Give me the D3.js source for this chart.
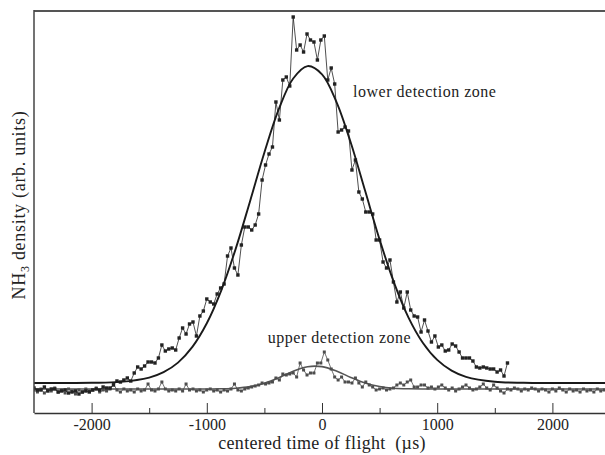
<!DOCTYPE html>
<html>
<head>
<meta charset="utf-8">
<script src="https://cdn.jsdelivr.net/npm/d3@7"></script>
<style>
  html, body { margin: 0; padding: 0; background: #fff; }
  svg { display: block; }
  text { font-family: "Liberation Serif", "DejaVu Serif", serif; fill: #222; }
</style>
</head>
<body>
<script>
/* ——— data (density in arb. units, time in µs) ——————————————— */
const lowerStart = -2500, lowerStep = 30;
const lowerDensity = [
  25,23,23,26,22,24,24,21,22,23,20,21,22,19,21,22,21,23,24,23,
  26,25,25,28,32,31,33,35,32,40,46,44,47,51,51,50,55,68,62,64,
  65,63,75,85,79,89,91,77,97,102,114,111,109,119,125,129,157,165,145,138,
  168,186,186,183,188,199,233,248,259,266,311,293,333,336,327,396,363,368,361,379,
  373,371,353,373,377,333,345,329,281,283,286,282,243,253,221,214,201,201,199,173,
  173,151,145,153,131,111,121,105,121,103,97,96,81,93,82,71,77,66,68,62,
  63,69,67,61,55,55,55,52,46,45,46,45,44,44,41,43,37,50
];

const upperStart = -2500, upperStep = 30;
const upperDensity = [
  23,21,24,20,23,22,25,21,23,20,24,22,19,23,21,24,22,23,25,21,
  23,22,24,29,23,21,24,22,23,21,24,22,23,29,23,22,24,31,24,22,
  23,22,24,22,29,23,24,22,23,21,23,24,22,23,21,23,22,24,29,23,
  22,24,25,26,27,28,30,29,30,31,35,33,39,38,39,40,36,50,43,38,
  40,40,50,50,61,53,44,36,33,36,31,31,30,35,30,26,31,28,26,23,
  24,25,23,24,25,28,30,28,31,33,26,26,28,28,25,26,24,26,28,25,
  23,25,22,24,26,28,25,23,24,26,29,25,23,28,25,22,20,24,23,25,
  24,22,24,23,25,24,22,24,23,21,24,22,25,23,21,24,22,23,21,24,
  22,23,21,24,22,23
];

// gaussian fits
const lowerFitTime = [-2500,-2250,-2000,-1750,-1500,-1375,-1250,-1125,-1000,-875,-750,-625,-500,-375,-250,-125,
                      0,125,250,375,500,625,750,875,1000,1125,1250,1500,1750,2000,2250,2500];
const lowerFitDensity = [30,30,30.2,31.1,35.4,40.8,50.4,66.1,89.7,122.4,163.9,211.6,260.5,303.8,334.5,346.9,
                         338.7,311.2,270.2,221.9,173.4,130.4,95.7,70.3,53.1,42.4,36.2,31.3,30.2,30,30,30];

const upperFitTime = [-2500,-2000,-1500,-1000,-875,-750,-625,-500,-375,-250,-125,
                      0,125,250,375,500,625,750,1000,1500,2000,2500];
const upperFitDensity = [24,24,24,24,24.2,24.8,26.4,29.8,35.3,41.8,46.3,
                         46.4,42.0,35.6,30.0,26.5,24.8,24.2,24,24,24,24];

const majorTicks = [-2000,-1000,0,1000,2000];
const minorTicks = [-1500,-500,500,1500];

const labels = [
  {text: "lower detection zone", t: 270,  v: 316},
  {text: "upper detection zone", t: -470, v: 70}
];

/* ——— layout ———————————————————————————————————————— */
const width = 605, height = 455;
const plot = {left: 34, right: 605, top: 11, bottom: 413};

const svg = d3.select("body").append("svg")
  .attr("width", width)
  .attr("height", height);

const x = d3.scaleLinear([-2500, 2500], [plot.left, 610]);
const y = d3.scaleLinear([0, 402], [plot.bottom, plot.top]);

svg.append("defs").append("clipPath")
    .attr("id", "plot-clip")
  .append("rect")
    .attr("x", plot.left)
    .attr("y", plot.top)
    .attr("width", plot.right - plot.left)
    .attr("height", plot.bottom - plot.top);

const toPoints = (start, step, arr) => arr.map((v, i) => [start + i * step, v]);
const lowerPts = toPoints(lowerStart, lowerStep, lowerDensity);
const upperPts = toPoints(upperStart, upperStep, upperDensity);
const zip = (ts, vs) => ts.map((t, i) => [t, vs[i]]);

const g = svg.append("g").attr("clip-path", "url(#plot-clip)");

/* ——— fits ——————————————————————————————————————————— */
const fitLine = d3.line()
  .x(d => x(d[0])).y(d => y(d[1]))
  .curve(d3.curveCatmullRom.alpha(0.5));

g.append("path")
  .datum(zip(upperFitTime, upperFitDensity))
  .attr("fill", "none")
  .attr("stroke", "#555")
  .attr("stroke-width", 1.6)
  .attr("d", fitLine);

/* ——— data series ———————————————————————————————————— */
const dataLine = d3.line().x(d => x(d[0])).y(d => y(d[1]));

function series(pts, colour, size){
  g.append("path")
    .datum(pts)
    .attr("fill", "none")
    .attr("stroke", colour)
    .attr("stroke-width", 0.8)
    .attr("d", dataLine);
  g.append("g").selectAll("rect").data(pts).enter().append("rect")
    .attr("x", d => x(d[0]) - size / 2)
    .attr("y", d => y(d[1]) - size / 2)
    .attr("width", size)
    .attr("height", size)
    .attr("fill", colour);
}

series(upperPts, "#4d4d4d", 3);
series(lowerPts, "#222", 3.4);

g.append("path")
  .datum(zip(lowerFitTime, lowerFitDensity))
  .attr("fill", "none")
  .attr("stroke", "#1a1a1a")
  .attr("stroke-width", 1.9)
  .attr("d", fitLine);

/* ——— frame + axis ———————————————————————————————————— */
svg.append("line")
  .attr("x1", plot.left).attr("x2", plot.right)
  .attr("y1", plot.top).attr("y2", plot.top)
  .attr("stroke", "#555").attr("stroke-width", 2);

svg.append("line")
  .attr("x1", plot.left).attr("x2", plot.left)
  .attr("y1", plot.top - 1).attr("y2", plot.bottom)
  .attr("stroke", "#444").attr("stroke-width", 1.5);

const axisG = svg.append("g")
  .attr("transform", `translate(0,${plot.bottom})`)
  .call(d3.axisBottom(x).tickValues(majorTicks).tickSizeInner(-10).tickSizeOuter(0)
        .tickPadding(6).tickFormat(d => String(d)));   // plain hyphen like the original

svg.append("g")
  .attr("transform", `translate(0,${plot.bottom})`)
  .call(d3.axisBottom(x).tickValues(minorTicks).tickSizeInner(-5).tickSizeOuter(0)
        .tickFormat(""))
  .select(".domain").remove();

svg.selectAll(".tick line").attr("stroke", "#333").attr("stroke-width", 1);
axisG.select(".domain").attr("stroke", "#333").attr("stroke-width", 1.5);
axisG.selectAll("text")
  .attr("font-family", "Liberation Serif, DejaVu Serif, serif")
  .attr("font-size", 16)
  .attr("fill", "#222");

/* ——— titles ——————————————————————————————————————————— */
svg.append("text")
  .attr("x", x(0))
  .attr("y", 449)
  .attr("text-anchor", "middle")
  .attr("font-size", 18)
  .attr("letter-spacing", 0.3)
  .style("white-space", "pre")
  .text("centered time of flight  (µs)");

const yTitle = svg.append("text")
  .attr("transform", `translate(25,${(plot.top + plot.bottom) / 2 - 7}) rotate(-90)`)
  .attr("text-anchor", "middle")
  .attr("font-size", 18)
  .attr("letter-spacing", 0.7);
yTitle.append("tspan").text("NH");
yTitle.append("tspan").attr("font-size", 12).attr("dy", 4).text("3");
yTitle.append("tspan").attr("dy", -4).text(" density (arb. units)");

svg.selectAll(".zone-label").data(labels).enter().append("text")
  .attr("class", "zone-label")
  .attr("x", d => x(d.t))
  .attr("y", d => y(d.v))
  .attr("font-size", 16)
  .attr("letter-spacing", 0.5)
  .text(d => d.text);
</script>
</body>
</html>
